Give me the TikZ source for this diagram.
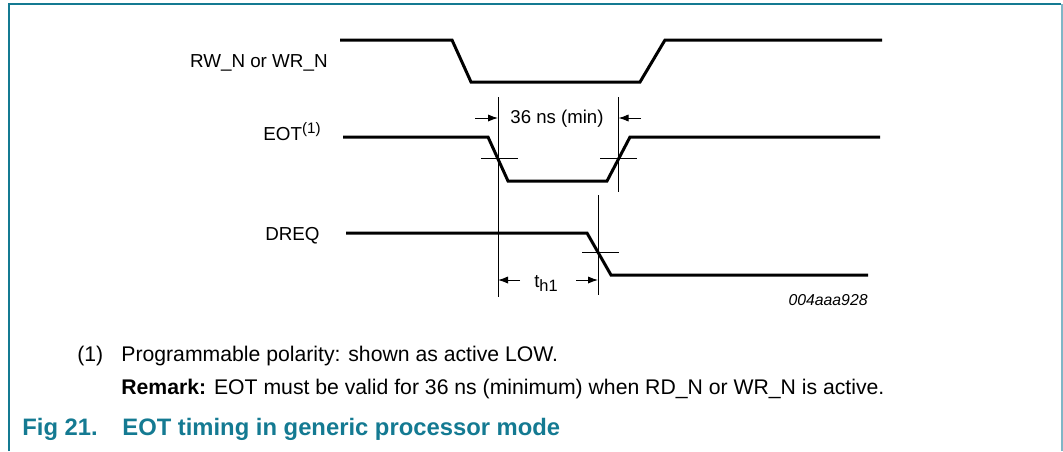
\documentclass[tikz,border=0pt]{standalone}
\usepackage{fontspec}
\setmainfont{Liberation Sans}
\usetikzlibrary{positioning, arrows.meta, calc}
\definecolor{nxpteal}{RGB}{20,122,146}
\definecolor{nxplight}{RGB}{128,182,198}

\begin{document}
\begin{tikzpicture}[
    x=0.5pt, y=-0.5pt,
    signal/.style={line width=1.5pt, line join=miter},
    guide/.style={line width=0.5pt},
    dimarrow/.style={-{Latex[length=5pt, width=3.6pt]}, line width=0.5pt},
    siglabel/.style={anchor=base east, inner sep=0pt, font=\fontsize{9.4}{11}\selectfont},
    dimlabel/.style={anchor=base, inner sep=0pt, font=\fontsize{9.3}{11}\selectfont},
    note/.style={anchor=base west, inner sep=0pt, font=\fontsize{10.6}{12}\selectfont},
    caption/.style={anchor=base west, inner sep=0pt, text=nxpteal, font=\fontsize{11.9}{14}\selectfont\bfseries}
]

    \useasboundingbox (0,0) rectangle (1063,451);

    % Frame
    \draw[nxpteal, line width=1pt] (8.5,451) -- (8.5,4.3) -- (1061,4.3);
    \draw[nxplight, line width=1pt] (1061.7,4.3) -- (1061.7,451);

    % === Signal labels ===
    \node[siglabel] (rwlabel) at (328,67) {RW\_N or WR\_N};
    \node[siglabel] (eotlabel) at (321,140) {EOT\raisebox{0.7ex}{\fontsize{7.6}{9}\selectfont(1)}};
    \node[siglabel] (dreqlabel) at (320,240) {DREQ};

    % === RW_N or WR_N ===
    \coordinate (rwA) at (340,40);
    \coordinate (rwB) at (452,40);
    \coordinate (rwC) at (471,82);
    \coordinate (rwD) at (640,82);
    \coordinate (rwE) at (665,40);
    \coordinate (rwF) at (882,40);
    \draw[signal] (rwA) -- (rwB) -- (rwC) -- (rwD) -- (rwE) -- (rwF);

    % === EOT ===
    \coordinate (eotA) at (343,137);
    \coordinate (eotB) at (488,137);
    \coordinate (eotC) at (508,181);
    \coordinate (eotD) at (607,181);
    \coordinate (eotE) at (630,137);
    \coordinate (eotF) at (880,137);
    \draw[signal] (eotA) -- (eotB) -- (eotC) -- (eotD) -- (eotE) -- (eotF);

    % === DREQ ===
    \coordinate (dreqA) at (346,233);
    \coordinate (dreqB) at (587,233);
    \coordinate (dreqC) at (611,275);
    \coordinate (dreqD) at (868,275);
    \draw[signal] (dreqA) -- (dreqB) -- (dreqC) -- (dreqD);

    % Reference lines
    \coordinate (fallTop) at (498,97);
    \coordinate (fallBot) at (498,297);
    \coordinate (riseTop) at (618.5,97);
    \coordinate (riseBot) at (618.5,192);
    \coordinate (dreqTop) at (598,195);
    \coordinate (dreqBot) at (598,295);
    \draw[guide] (fallTop) -- (fallBot);
    \draw[guide] (riseTop) -- (riseBot);
    \draw[guide] (dreqTop) -- (dreqBot);

    % Crossing ticks
    \draw[guide] (481,158) -- (518,158);
    \draw[guide] (600,158) -- (637,158);
    \draw[guide] (582,252) -- (619,252);

    % === 36 ns (min) ===
    \coordinate (minL) at (475,118);
    \coordinate (minR) at (641,118);
    \draw[dimarrow] (minL) -- (fallTop |- minL);
    \draw[dimarrow] (minR) -- (riseTop |- minR);
    \node[dimlabel] (minlabel) at (557,123) {36 ns (min)};

    % === t_h1 ===
    \coordinate (thL) at (520,280);
    \coordinate (thR) at (576,280);
    \draw[dimarrow] (thL) -- (fallTop |- thL);
    \draw[dimarrow] (thR) -- (dreqTop |- thR);
    \node[dimlabel] (thlabel) at (546,287) {t\raisebox{-0.45ex}{\fontsize{8.2}{9}\selectfont h1}};

    % Drawing code
    \node[anchor=base east, inner sep=0pt, font=\fontsize{7.9}{9}\selectfont\itshape] (code) at (868,305) {004aaa928};

    % === Notes ===
    \node[note] (fnmark) at (77,361) {(1)};
    \node[note] (fntext) at (121,361) {Programmable polarity: shown as active LOW.};
    \node[note] (remark) at (121,394) {\textbf{Remark:} EOT must be valid for 36 ns (minimum) when RD\_N or WR\_N is active.};

    % === Caption ===
    \node[caption] (fignum) at (22,435) {Fig 21.};
    \node[caption] (figtitle) at (122,435) {EOT timing in generic processor mode};

\end{tikzpicture}
\end{document}
